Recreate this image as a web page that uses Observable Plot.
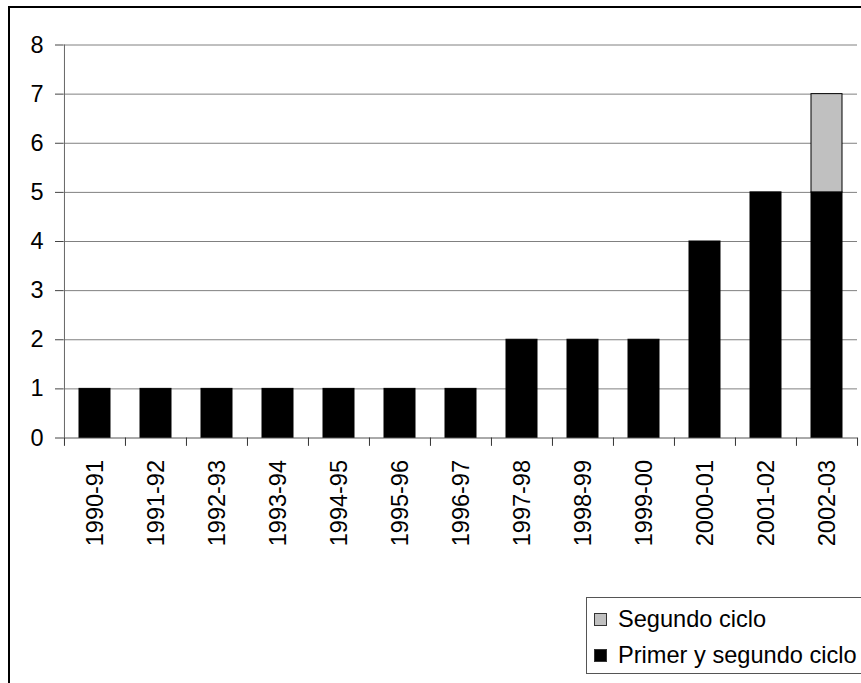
<!DOCTYPE html>
<html>
<head>
<meta charset="utf-8">
<script src="https://cdn.jsdelivr.net/npm/d3@7"></script>
<script src="https://cdn.jsdelivr.net/npm/@observablehq/plot@0.6"></script>
<style>
  html, body { margin: 0; padding: 0; background: #fff; overflow: hidden; }
  #wrap { position: relative; width: 861px; height: 683px; overflow: hidden; font-family: "Liberation Sans", Arial, sans-serif; }
  #frame { position: absolute; left: 8px; top: 6px; width: 900px; height: 720px; border: 2px solid #000; box-sizing: border-box; pointer-events: none; }
  #chart { position: absolute; left: 0; top: 0; }
  #legend { position: absolute; left: 586px; top: 597px; width: 320px; height: 77px; border: 1px solid #555; box-sizing: border-box; background: #fff; }
  .row { position: absolute; left: 7px; height: 26px; display: flex; align-items: center; font-size: 23.6px; color: #000; white-space: nowrap; }
  .sw { width: 13px; height: 13px; box-sizing: border-box; border: 1px solid #333; margin-right: 11px; }
</style>
</head>
<body>
<div id="wrap">
  <div id="chart"></div>
  <div id="frame"></div>
  <div id="legend"></div>
</div>
<script>
// ---- data ----
const years = ["1990-91","1991-92","1992-93","1993-94","1994-95","1995-96","1996-97","1997-98","1998-99","1999-00","2000-01","2001-02","2002-03"];
const seriesNames = ["Primer y segundo ciclo", "Segundo ciclo"];
const primerYSegundo = [1,1,1,1,1,1,1,2,2,2,4,5,5];
const segundo = [0,0,0,0,0,0,0,0,0,0,0,0,2];
const seriesColors = ["#000000", "#c0c0c0"];
const yTicks = [0,1,2,3,4,5,6,7,8];

const rows = [];
years.forEach((y, i) => {
  rows.push({year: y, series: seriesNames[0], value: primerYSegundo[i]});
  rows.push({year: y, series: seriesNames[1], value: segundo[i]});
});

const W = 861, H = 683;
const mL = 63, mR = 4, mT = 44.5, mB = 245.5;
const step = (W - mL - mR) / years.length;
const FS = 23.5;

const chart = Plot.plot({
  width: W,
  height: H,
  marginLeft: mL,
  marginRight: mR,
  marginTop: mT,
  marginBottom: mB,
  style: {fontFamily: "'Liberation Sans', Arial, sans-serif", fontSize: FS + "px", background: "transparent", overflow: "visible"},
  x: {type: "band", domain: years, paddingInner: 0.5, paddingOuter: 0.25, label: null},
  y: {domain: [0, 8], label: null},
  color: {domain: seriesNames, range: seriesColors},
  marks: [
    Plot.ruleY(yTicks.slice(1), {stroke: "#808080", strokeWidth: 1}),
    Plot.barY(rows, {x: "year", y: "value", fill: "series", stroke: "#000", strokeWidth: 1, order: seriesNames}),
    Plot.ruleY([0], {stroke: "#555"}),
    Plot.ruleX([years[0]], {dx: -step / 2, y1: 0, y2: 8, stroke: "#666"}),
    Plot.ruleX(years, {dx: -step / 2, y1: 0, y2: -0.17, stroke: "#333"}),
    Plot.ruleX([years[years.length - 1]], {dx: step / 2, y1: 0, y2: -0.17, stroke: "#333"}),
    Plot.axisY({ticks: yTicks, tickSize: 8, tickPadding: 12, fontSize: FS, stroke: "#444", label: null}),
    Plot.axisX({tickSize: 0, tickPadding: 22, tickRotate: -90, fontSize: FS, label: null})
  ]
});
document.getElementById("chart").appendChild(chart);

// legend
const legend = document.getElementById("legend");
const legendOrder = [seriesNames[1], seriesNames[0]];
legendOrder.forEach((name, k) => {
  const row = document.createElement("div");
  row.className = "row";
  row.style.top = (k === 0 ? 8 : 44) + "px";
  const sw = document.createElement("div");
  sw.className = "sw";
  sw.style.background = seriesColors[seriesNames.indexOf(name)];
  const t = document.createElement("span");
  t.textContent = name;
  row.appendChild(sw);
  row.appendChild(t);
  legend.appendChild(row);
});
</script>
</body>
</html>
